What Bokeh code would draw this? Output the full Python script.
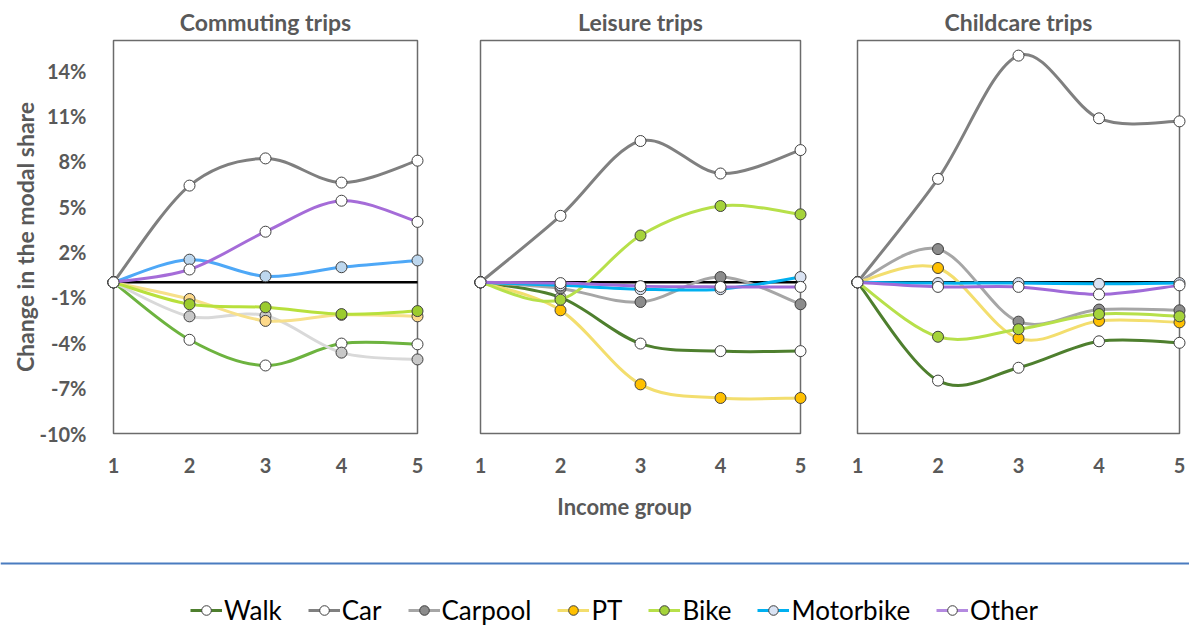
from bokeh.plotting import figure
from bokeh.layouts import row, column
from bokeh.models import (Range1d, FixedTicker, PrintfTickFormatter, Span, Label,
                          Legend, LegendItem, ColumnDataSource)
from bokeh.embed import file_html
from bokeh.resources import INLINE

# ---- data: change in modal share (percentage points) by income group ----
income_groups = [1, 2, 3, 4, 5]
modes = ["Walk", "Car", "Carpool", "PT", "Bike", "Motorbike", "Other"]

commute_walk = [0, -3.8, -5.5, -4.05, -4.1]
commute_car = [0, 6.4, 8.2, 6.6, 8.05]
commute_carpool = [0, -2.25, -2.2, -4.65, -5.1]
commute_pt = [0, -1.1, -2.55, -2.15, -2.25]
commute_bike = [0, -1.45, -1.65, -2.1, -1.9]
commute_motorbike = [0, 1.5, 0.4, 1.0, 1.45]
commute_other = [0, 0.85, 3.35, 5.4, 4.0]

leisure_walk = [0, -1.0, -4.05, -4.55, -4.55]
leisure_car = [0, 4.4, 9.35, 7.2, 8.75]
leisure_carpool = [0, -0.4, -1.3, 0.35, -1.45]
leisure_pt = [0, -1.85, -6.75, -7.65, -7.65]
leisure_bike = [0, -1.15, 3.1, 5.05, 4.5]
leisure_motorbike = [0, -0.2, -0.45, -0.45, 0.35]
leisure_other = [0, -0.05, -0.25, -0.3, -0.3]

childcare_walk = [0, -6.5, -5.65, -3.9, -4.0]
childcare_car = [0, 6.85, 15.0, 10.85, 10.65]
childcare_carpool = [0, 2.2, -2.6, -1.8, -1.85]
childcare_pt = [0, 0.95, -3.7, -2.55, -2.65]
childcare_bike = [0, -3.6, -3.1, -2.1, -2.25]
childcare_motorbike = [0, -0.05, -0.05, -0.1, -0.05]
childcare_other = [0, -0.3, -0.3, -0.8, -0.2]

y_ticks = [-10, -7, -4, -1, 2, 5, 8, 11, 14]
y_min, y_max = -10, 16

# ---- styles: (line colour, marker fill) ----
commute_style = {
    "Walk": ("#6db33f", "white"),
    "Car": ("#7f7f7f", "white"),
    "Carpool": ("#d9d9d9", "#c8c8c8"),
    "PT": ("#f7e08a", "#fdd98a"),
    "Bike": ("#b8e03c", "#9bcb2e"),
    "Motorbike": ("#4ea8f7", "#bdd7ee"),
    "Other": ("#a56cd8", "white"),
}
main_style = {
    "Walk": ("#4e7f2e", "white"),
    "Car": ("#808080", "white"),
    "Carpool": ("#a6a6a6", "#8c8c8c"),
    "PT": ("#f3de6e", "#ffc000"),
    "Bike": ("#b7e04a", "#a5d33a"),
    "Motorbike": ("#00b0f0", "#dae3f3"),
    "Other": ("#a06bd8", "white"),
}

FONT = "Lato"
TXT = "#595959"
PADX, PADY = 8, 3
BOX_TOP, BOX_H = 40, 393
PANEL_H = 490
STRIP_H = 626 - PANEL_H


def smooth_source(xs, ys):
    """Cubic Bezier segments through the points (Catmull-Rom style)."""
    n = len(xs)
    d = {k: [] for k in ("x0", "y0", "x1", "y1", "cx0", "cy0", "cx1", "cy1")}
    for i in range(n - 1):
        a, b = max(i - 1, 0), min(i + 2, n - 1)
        d["x0"].append(xs[i]); d["y0"].append(ys[i])
        d["x1"].append(xs[i + 1]); d["y1"].append(ys[i + 1])
        d["cx0"].append(xs[i] + (xs[i + 1] - xs[a]) / 6)
        d["cy0"].append(ys[i] + (ys[i + 1] - ys[a]) / 6)
        d["cx1"].append(xs[i + 1] - (xs[b] - xs[i]) / 6)
        d["cy1"].append(ys[i + 1] - (ys[b] - ys[i]) / 6)
    return ColumnDataSource(d)


def make_panel(title, series, style, box_w, left, right, show_y):
    frame_w = box_w + 2 * PADX
    ux = (income_groups[-1] - income_groups[0]) / box_w
    uy = (y_max - y_min) / BOX_H
    p = figure(frame_width=frame_w, frame_height=BOX_H + 2 * PADY,
               min_border_left=left, min_border_right=right,
               min_border_top=BOX_TOP - PADY,
               min_border_bottom=PANEL_H - BOX_TOP - BOX_H - PADY,
               x_range=Range1d(income_groups[0] - PADX * ux, income_groups[-1] + PADX * ux),
               y_range=Range1d(y_min - PADY * uy, y_max + PADY * uy),
               toolbar_location=None, output_backend="svg", title=title)
    p.outline_line_color = None
    p.grid.visible = False
    p.title.align = "center"
    p.title.text_font = FONT
    p.title.text_font_size = "23px"
    p.title.text_font_style = "bold"
    p.title.text_color = TXT
    p.title.standoff = 4

    for ax in (p.xaxis[0], p.yaxis[0]):
        ax.axis_line_color = None
        ax.major_tick_line_color = None
        ax.minor_tick_line_color = None
        ax.major_label_text_font = FONT
        ax.major_label_text_font_size = "20px"
        ax.major_label_text_font_style = "bold"
        ax.major_label_text_color = TXT
        ax.axis_label_text_font = FONT
        ax.axis_label_text_font_style = "bold"
        ax.axis_label_text_color = TXT
    p.xaxis.ticker = FixedTicker(ticks=income_groups)
    p.xaxis.major_label_standoff = 15
    p.yaxis.ticker = FixedTicker(ticks=y_ticks)
    p.yaxis.formatter = PrintfTickFormatter(format="%d%%")
    p.yaxis.major_label_standoff = 13
    p.yaxis.axis_label = "Change in the modal share"
    p.yaxis.axis_label_text_font_size = "23px"
    p.yaxis.axis_label_standoff = -3
    p.yaxis.visible = show_y

    # chart box and zero baseline
    p.quad(left=income_groups[0], right=income_groups[-1], bottom=y_min, top=y_max,
           fill_color=None, line_color="#6b6b6b", line_width=1.5)
    p.segment(x0=income_groups[0], x1=income_groups[-1], y0=0, y1=0,
              line_color="black", line_width=2.5)

    for mode in modes:
        lc, mc = style[mode]
        ys = series[mode]
        p.bezier(x0="x0", y0="y0", x1="x1", y1="y1", cx0="cx0", cy0="cy0",
                 cx1="cx1", cy1="cy1", source=smooth_source(income_groups, ys),
                 line_color=lc, line_width=3, line_cap="round")
        p.scatter(income_groups, ys, size=11, fill_color=mc,
                  line_color="#404040", line_width=1)
    return p


commute = dict(zip(modes, [commute_walk, commute_car, commute_carpool, commute_pt,
                           commute_bike, commute_motorbike, commute_other]))
leisure = dict(zip(modes, [leisure_walk, leisure_car, leisure_carpool, leisure_pt,
                           leisure_bike, leisure_motorbike, leisure_other]))
childcare = dict(zip(modes, [childcare_walk, childcare_car, childcare_carpool, childcare_pt,
                             childcare_bike, childcare_motorbike, childcare_other]))

p1 = make_panel("Commuting trips", commute, commute_style, 304, 113 - PADX, 23 - PADX, True)
p2 = make_panel("Leisure trips", leisure, main_style, 320, 40 - PADX, 30 - PADX, False)
p3 = make_panel("Childcare trips", childcare, main_style, 322, 27 - PADX, 10 - PADX, False)

# ---- bottom strip: shared x title, separator rule and legend ----
# vertical data units of the strip are pixels measured up from its bottom edge
leg = figure(width=1189, height=STRIP_H, x_range=Range1d(100, 101),
             y_range=Range1d(1000, 1000 + STRIP_H),
             toolbar_location=None, output_backend="svg", min_border=0)
leg.axis.visible = False
leg.grid.visible = False
leg.outline_line_color = None
leg.add_layout(Label(x=624, x_units="screen", y=1000 + 626 - 506, text="Income group",
                     text_align="center", text_baseline="middle", text_font=FONT,
                     text_font_size="22px", text_font_style="bold", text_color=TXT))
leg.add_layout(Span(location=1000 + 626 - 563, dimension="width",
                    line_color="#4a7cc0", line_width=2))

items = []
for mode in modes:
    lc, mc = main_style[mode]
    if mode == "Other":
        lc = "#b48ae0"
    # swatch renderers: the series values sit outside this strip's view range
    rl = leg.line(x=income_groups, y=commute[mode], line_color=lc, line_width=3)
    rs = leg.scatter(x=income_groups, y=commute[mode], size=11, fill_color=mc,
                     line_color="#404040", line_width=1)
    items.append(LegendItem(label=mode, renderers=[rl, rs]))
legend = Legend(items=items, orientation="horizontal", location=(190, 0),
                glyph_width=32, glyph_height=24, label_standoff=2, spacing=26,
                padding=0, margin=0, border_line_color=None, background_fill_alpha=0,
                label_text_font=FONT, label_text_font_size="26px",
                label_text_color="black")
leg.add_layout(legend)

layout = column(row(p1, p2, p3), leg)
open("out.html", "w").write(file_html(layout, INLINE))
